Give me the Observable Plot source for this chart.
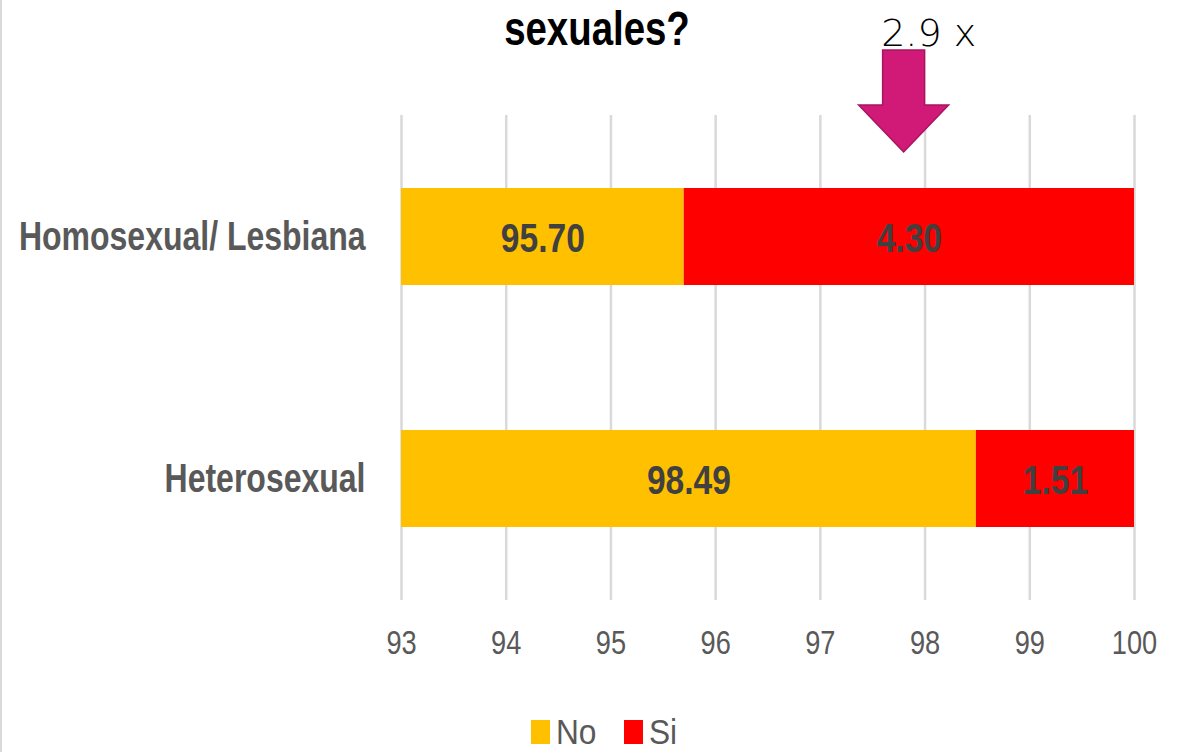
<!DOCTYPE html>
<html>
<head>
<meta charset="utf-8">
<script src="https://cdn.jsdelivr.net/npm/d3@7"></script>
<script src="https://cdn.jsdelivr.net/npm/@observablehq/plot@0.6"></script>
<style>
  html, body { margin: 0; padding: 0; background: #fff; }
  #chart { width: 1186px; height: 752px; position: relative; overflow: hidden; }
</style>
</head>
<body>
<div id="chart"></div>
<script>
// ---- data ----
const categories = ["Homosexual/ Lesbiana", "Heterosexual"];
const responses = ["No", "Si"];
const noValues = [95.70, 98.49];
const siValues = [4.30, 1.51];
const xTicks = [93, 94, 95, 96, 97, 98, 99, 100];
const colors = ["#FFC000", "#FF0000"];
const titleText = "sexuales?";
const annotationText = "2.9 x";
const arrowAt = 97.8;

const FONT = '"Liberation Sans", Arial, sans-serif';

const rows = [];
categories.forEach((c, i) => {
  rows.push({category: c, response: "No", value: noValues[i]});
  rows.push({category: c, response: "Si", value: siValues[i]});
});
const xMin = xTicks[0], xMax = xTicks[xTicks.length - 1];
// label positions: middle of the visible part of each stacked segment
const labels = [];
categories.forEach((c, i) => {
  let start = 0;
  [noValues[i], siValues[i]].forEach((v, j) => {
    const end = start + v;
    labels.push({category: c, text: v.toFixed(2), x: (Math.max(xMin, start) + Math.min(xMax, end)) / 2});
    start = end;
  });
});

const W = 1186, H = 752;
const plot = Plot.plot({
  width: W,
  height: H,
  marginLeft: 401,
  marginRight: 52,
  marginTop: 115,
  marginBottom: 152,
  style: {fontFamily: FONT, background: "#fff", color: "#595959"},
  x: {domain: [xMin, xMax], ticks: xTicks, tickSize: 0, tickPadding: 29, tickFormat: d => String(d), label: null},
  y: {domain: categories, paddingInner: 0.6, paddingOuter: 0.3, tickSize: 0, tickPadding: 36, label: null},
  color: {domain: responses, range: colors},
  marks: [
    Plot.ruleX(xTicks, {stroke: "#d9d9d9", strokeWidth: 2.5}),
    Plot.barX(rows, Plot.stackX({x: "value", y: "category", fill: "response", order: responses, clip: true})),
    Plot.text(labels, {x: "x", y: "category", text: "text", fill: "#404040", fontSize: 40, fontWeight: "bold", fontFamily: FONT, dy: 2})
  ]
});
document.getElementById("chart").appendChild(plot);

const svg = d3.select(plot);
svg.attr("overflow", "visible");

// horizontally condense text (mimics a narrow Calibri-like face)
function squeeze(sel, k) {
  sel.each(function () {
    const bb = this.getBBox();
    const anchor = getComputedStyle(this).textAnchor;
    const ax = anchor === "end" ? bb.x + bb.width : anchor === "middle" ? bb.x + bb.width / 2 : bb.x;
    const t = this.getAttribute("transform") || "";
    this.setAttribute("transform", `${t} translate(${ax},0) scale(${k},1) translate(${-ax},0)`);
  });
}

// axis styling
const xt = svg.selectAll('g[aria-label^="x-axis"] text').attr("font-size", 34).attr("fill", "#595959");
const yt = svg.selectAll('g[aria-label^="y-axis"] text').attr("font-size", 40).attr("font-weight", "bold").attr("fill", "#595959");
squeeze(xt, 0.8);
squeeze(yt, 0.8);
squeeze(svg.selectAll('g[aria-label="text"] text'), 0.84);

// left border
svg.append("line").attr("x1", 1).attr("x2", 1).attr("y1", 0).attr("y2", H)
  .attr("stroke", "#d9d9d9").attr("stroke-width", 2);

// title (first line cut off in the reference)
const title = svg.append("text").attr("x", 597).attr("y", 45).attr("text-anchor", "middle")
  .attr("font-family", FONT).attr("font-size", 48).attr("font-weight", "bold").attr("fill", "#000")
  .text(titleText);
squeeze(title, 0.8);

// arrow annotation
const xs = plot.scale("x");
const cx = xs.apply(arrowAt);
const arrowPts = [
  [cx - 21, 50], [cx + 21, 50], [cx + 21, 105], [cx + 45, 105],
  [cx, 152], [cx - 45, 105], [cx - 21, 105]
];
svg.append("polygon").attr("points", arrowPts.map(p => p.join(",")).join(" "))
  .attr("fill", "#D11A78").attr("stroke", "#A8145F").attr("stroke-width", 1.5);
svg.append("text").attr("x", cx + 25).attr("y", 46).attr("text-anchor", "middle")
  .attr("font-family", '"DejaVu Sans", sans-serif').attr("font-weight", 200)
  .attr("font-size", 38).attr("fill", "#000").text(annotationText);

// legend
const leg = svg.append("g").attr("font-family", FONT).attr("font-size", 36).attr("fill", "#595959").attr("text-anchor", "start");
const legX = [531, 624];
responses.forEach((r, i) => {
  leg.append("rect").attr("x", legX[i]).attr("y", 720).attr("width", 19).attr("height", 24).attr("fill", colors[i]);
  const t = leg.append("text").attr("x", legX[i] + 25).attr("y", 744).text(r);
  squeeze(t, 0.88);
});
</script>
</body>
</html>
